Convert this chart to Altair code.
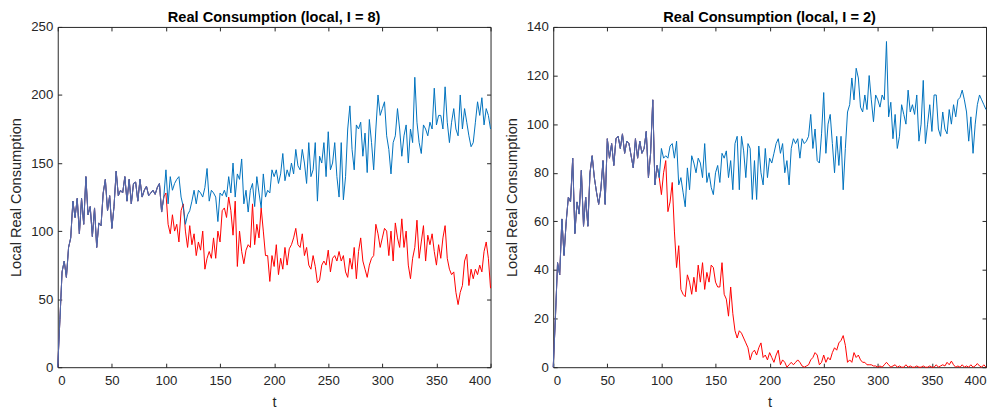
import altair as alt
import pandas as pd

# time index: shared start (identical paths) then the two diverging paths
T_COMMON = list(range(0, 100, 2))
T_TAIL = list(range(100, 401, 2))

# ---- left panel (I = 8) ----
left_common = [0, 35, 70, 78, 66, 88, 95, 122, 110, 124,
               98, 124, 105, 140, 112, 118, 96, 117, 88, 106,
               104, 128, 138, 115, 126, 102, 118, 144, 126, 130,
               128, 140, 122, 138, 120, 135, 136, 122, 138, 125,
               130, 133, 126, 128, 130, 127, 132, 135, 114, 125]
left_blue = [145, 120, 140, 130, 135, 138, 140, 125, 118, 105,
             112, 115, 122, 130, 120, 130, 128, 125, 132, 146,
             122, 130, 128, 125, 107, 128, 126, 130, 125, 140,
             128, 150, 125, 142, 138, 153, 120, 130, 114, 130,
             135, 118, 140, 128, 117, 142, 125, 130, 128, 145,
             140, 145, 135, 142, 157, 137, 145, 140, 150, 142,
             160, 148, 145, 160, 150, 135, 165, 140, 145, 165,
             122, 155, 150, 165, 140, 173, 145, 150, 165, 140,
             125, 165, 123, 140, 175, 192, 160, 145, 178, 175,
             180, 155, 172, 143, 182, 165, 145, 175, 200, 185,
             190, 195, 170, 160, 142, 165, 170, 190, 175, 155,
             170, 178, 150, 175, 165, 213, 180, 165, 157, 178,
             175, 170, 180, 175, 205, 178, 185, 185, 175, 206,
             180, 165, 180, 190, 175, 170, 200, 175, 190, 180,
             170, 162, 165, 180, 195, 185, 198, 178, 190, 185,
             175]
left_red = [128, 105, 98, 112, 100, 105, 92, 115, 120, 100,
            88, 104, 90, 98, 82, 92, 86, 100, 72, 80,
            85, 80, 95, 80, 100, 92, 115, 117, 110, 125,
            115, 97, 122, 74, 100, 85, 76, 86, 90, 88,
            120, 90, 105, 95, 117, 100, 82, 82, 63, 82,
            74, 90, 68, 80, 72, 88, 75, 87, 90, 95,
            102, 90, 88, 98, 82, 88, 75, 72, 82, 74,
            62, 64, 75, 78, 75, 86, 70, 80, 82, 78,
            85, 78, 82, 70, 66, 80, 72, 88, 65, 85,
            95, 78, 72, 66, 75, 80, 82, 105, 98, 88,
            95, 102, 100, 82, 100, 78, 106, 95, 88, 109,
            88, 100, 75, 65, 80, 88, 108, 80, 92, 104,
            78, 97, 90, 98, 85, 75, 90, 80, 95, 104,
            80, 72, 68, 70, 55, 46, 55, 60, 78, 83,
            60, 72, 65, 72, 68, 75, 70, 85, 92, 80,
            58]

# ---- right panel (I = 2) ----
right_common = [0, 20, 43, 38, 61, 46, 60, 70, 68, 86,
                55, 68, 63, 81, 58, 70, 58, 80, 87, 78,
                72, 67, 73, 85, 67, 94, 86, 92, 83, 94,
                95, 90, 96, 88, 93, 92, 87, 82, 94, 86,
                93, 88, 90, 97, 78, 88, 110, 75, 83, 78]
right_blue = [90, 86, 87, 86, 91, 92, 86, 93, 75, 78,
              72, 66, 82, 73, 87, 84, 80, 86, 84, 78,
              92, 76, 80, 74, 71, 80, 83, 76, 88, 86,
              89, 78, 85, 73, 92, 95, 73, 95, 89, 78,
              92, 90, 69, 85, 69, 91, 80, 75, 90, 78,
              86, 84, 88, 92, 94, 88, 92, 80, 85, 75,
              90, 94, 92, 94, 86, 94, 92, 93, 95, 104,
              90, 98, 85, 84, 96, 113, 88, 100, 104, 92,
              80, 95, 83, 95, 73, 90, 105, 108, 119, 110,
              123, 119, 107, 105, 112, 106, 120, 110, 101, 112,
              110, 107, 112, 110, 134, 103, 109, 94, 104, 90,
              95, 108, 104, 100, 114, 105, 108, 104, 112, 93,
              100, 118, 92, 100, 108, 97, 112, 112, 98, 95,
              105, 98, 96, 106, 100, 108, 103, 110, 111, 114,
              110, 105, 93, 103, 88, 100, 108, 112, 110, 108,
              106]
right_red = [71, 80, 85, 64, 68, 76, 56, 41, 50, 32,
             30, 29, 38, 35, 30, 37, 31, 42, 35, 43,
             32, 39, 35, 42, 41, 35, 33, 33, 43, 30,
             28, 21, 33, 22, 15, 12, 15, 14, 12, 10,
             8, 3, 6, 7, 5, 8, 10, 4, 5, 3,
             6, 4, 2, 5, 7, 1, 3, 2, 0, 1,
             2, 1, 2, 3, 2, 0.5, 0, 0.5, 1, 3,
             4, 6, 5, 1, 2, 5, 2, 4, 3, 6,
             8, 7, 10, 11, 13, 9, 2, 3, 2, 6,
             4, 5, 3, 2, 2, 1, 1, 1, 0.5, 0.5,
             0, 0.5, 0, 1, 2, 1, 0, 0.5, 1, 0,
             0.5, 0, 0, 1, 0, 0.5, 0, 0, 0.5, 0,
             0, 0.5, 0, 0, 0.5, 0, 0, 1, 0, 0.5,
             1, 0.5, 2, 1, 2.5, 1, 0, 0.5, 0, 1,
             0, 0.5, 0, 1, 0, 0.5, 1.5, 0.5, 0, 1,
             0]

X_TICKS = list(range(0, 401, 50))

BLUE = "#0072BD"
RED = "#FF0000"
MIX = "#5866a8"
INK = "#262626"
FONT = "Liberation Sans"


def series(common, tail):
    n = len(common) + len(tail)
    t = (T_COMMON + T_TAIL)[:n]
    return pd.DataFrame({"t": t, "v": (common + tail)[: len(t)]})


def panel(title, common, blue, red, ymax, ystep):
    y_ticks = list(range(0, ymax + 1, ystep))
    xs = alt.Scale(domain=[0, 400], nice=False, zero=False)
    ys = alt.Scale(domain=[0, ymax], nice=False)
    common_ax = dict(offset=-4, tickSize=4, domain=False, grid=False)
    ax_bottom = alt.Axis(orient="bottom", values=X_TICKS, title="t",
                         labelPadding=6, titlePadding=8, **common_ax)
    ax_left = alt.Axis(orient="left", values=y_ticks,
                       title="Local Real Consumption",
                       labelPadding=5, titlePadding=7, **common_ax)
    ax_top = alt.Axis(orient="top", values=X_TICKS, labels=False,
                      title=None, minExtent=0, maxExtent=0, **common_ax)
    ax_right = alt.Axis(orient="right", values=y_ticks, labels=False,
                        title=None, minExtent=0, maxExtent=0, **common_ax)

    red_layer = alt.Chart(series(common, red)).mark_line(
        color=RED, strokeWidth=1).encode(
        x=alt.X("t:Q", scale=xs, axis=ax_bottom),
        y=alt.Y("v:Q", scale=ys, axis=ax_left))
    blue_layer = alt.Chart(series(common, blue)).mark_line(
        color=BLUE, strokeWidth=1).encode(
        x=alt.X("t:Q", scale=xs, axis=ax_top),
        y=alt.Y("v:Q", scale=ys, axis=ax_right))
    mix_layer = alt.Chart(pd.DataFrame({"t": T_COMMON, "v": common})).mark_line(
        color=MIX, strokeWidth=1).encode(
        x=alt.X("t:Q", scale=xs, axis=None),
        y=alt.Y("v:Q", scale=ys, axis=None))

    return alt.layer(red_layer, blue_layer, mix_layer).resolve_axis(
        x="independent", y="independent").properties(
        width=435, height=342,
        title=alt.TitleParams(title, offset=-5))


left = panel("Real Consumption (local, I = 8)", left_common, left_blue, left_red, 250, 50)
right = panel("Real Consumption (local, I = 2)", right_common, right_blue, right_red, 140, 20)

chart = alt.hconcat(left, right, spacing=10).configure_view(
    stroke=INK, strokeWidth=1).configure_axis(
    labelFont=FONT, labelFontSize=13.3, labelColor=INK,
    titleFont=FONT, titleFontSize=14.67, titleFontWeight="normal", titleColor=INK,
    tickColor=INK, tickWidth=1).configure_title(
    font=FONT, fontSize=14.67, fontWeight="bold", color="#000000", anchor="middle").properties(
    background="white", padding=0)

chart.save("out.html", embed_options={"renderer": "svg", "actions": False})
